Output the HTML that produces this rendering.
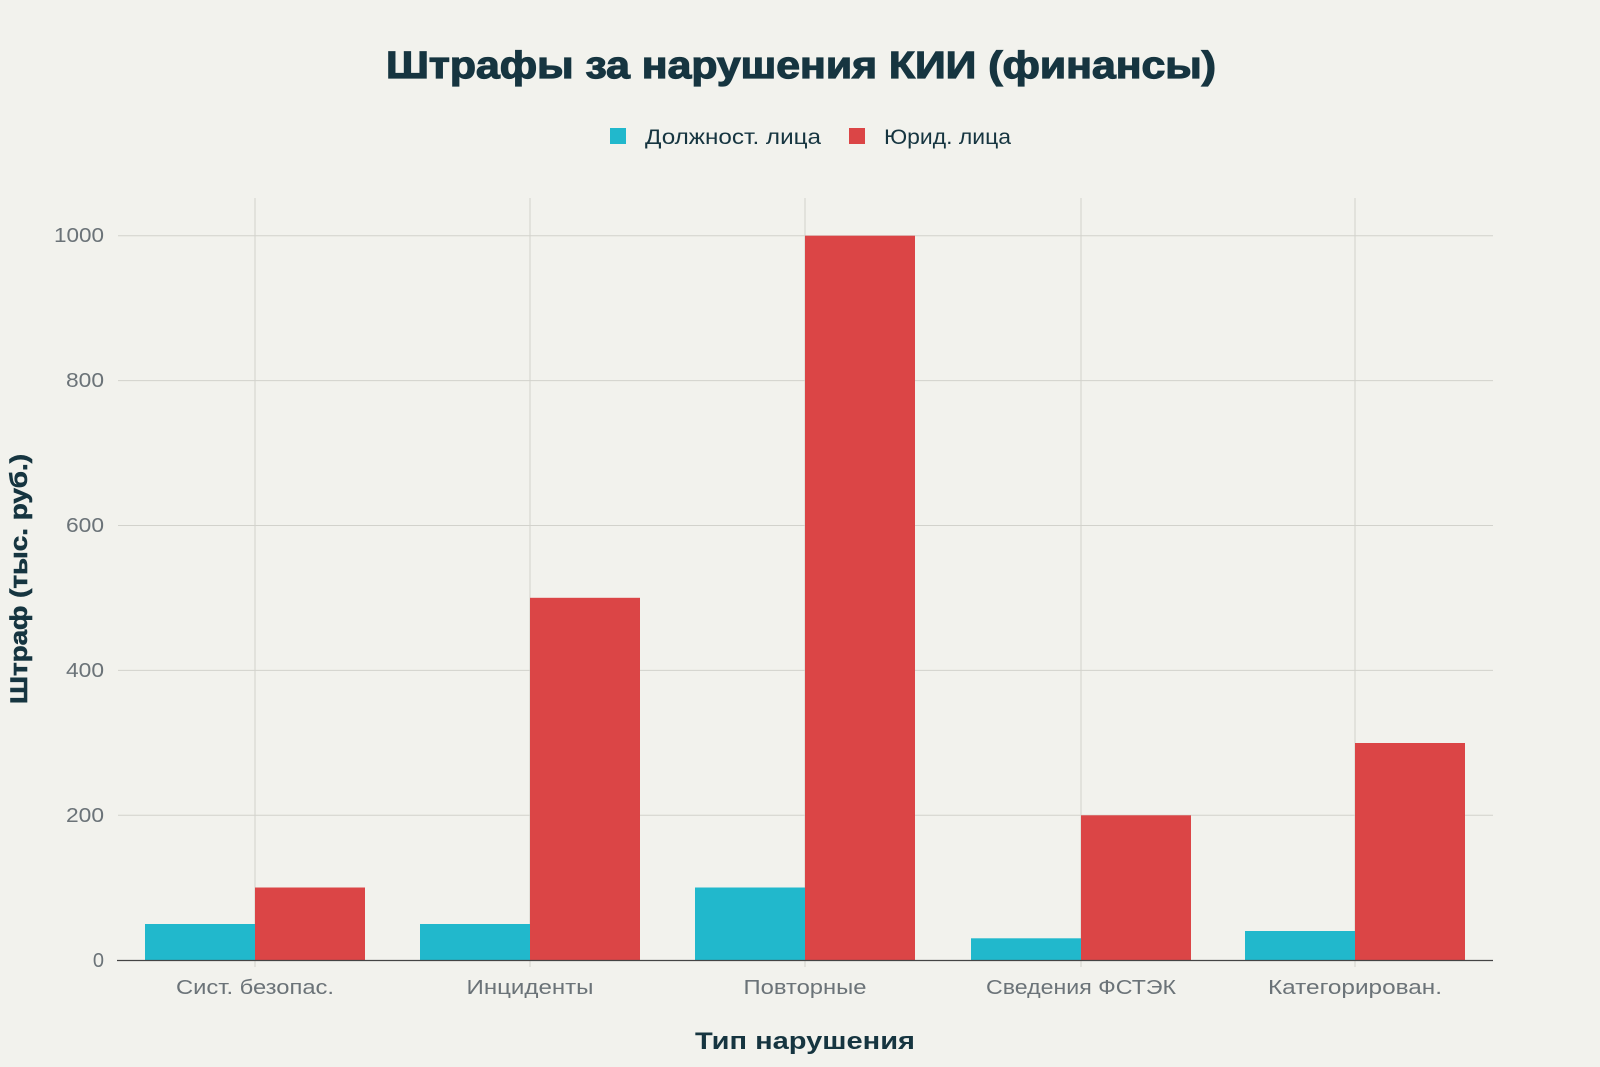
<!DOCTYPE html>
<html><head><meta charset="utf-8"><style>
html,body{margin:0;padding:0;background:#f2f2ed;}
svg{display:block;font-family:"Liberation Sans","DejaVu Sans",sans-serif;}
</style></head><body>
<svg width="1600" height="1067" viewBox="0 0 1600 1067" xmlns="http://www.w3.org/2000/svg">
<rect width="1600" height="1067" fill="#f2f2ed"/>
<text x="801" y="78" text-anchor="middle" font-size="38" font-weight="bold" fill="#163540" stroke="#163540" stroke-width="1.2" textLength="830" lengthAdjust="spacingAndGlyphs">Штрафы за нарушения КИИ (финансы)</text>
<rect x="610" y="128" width="16" height="16" fill="#21b8cc"/>
<text x="645" y="144" font-size="21" fill="#163540" textLength="176" lengthAdjust="spacingAndGlyphs">Должност. лица</text>
<rect x="849" y="128" width="16" height="16" fill="#db4546"/>
<text x="884" y="144" font-size="21" fill="#163540" textLength="127" lengthAdjust="spacingAndGlyphs">Юрид. лица</text>
<g stroke="#d2d2cc" stroke-width="1">
<line x1="118" x2="1493" y1="235.7" y2="235.7"/>
<line x1="118" x2="1493" y1="380.6" y2="380.6"/>
<line x1="118" x2="1493" y1="525.5" y2="525.5"/>
<line x1="118" x2="1493" y1="670.4" y2="670.4"/>
<line x1="118" x2="1493" y1="815.3" y2="815.3"/>
<line x1="255" x2="255" y1="198" y2="967"/>
<line x1="530" x2="530" y1="198" y2="967"/>
<line x1="805" x2="805" y1="198" y2="967"/>
<line x1="1081" x2="1081" y1="198" y2="967"/>
<line x1="1355" x2="1355" y1="198" y2="967"/>
</g>
<g font-size="20" fill="#6b7378" text-anchor="end">
<text x="104" y="242" textLength="50" lengthAdjust="spacingAndGlyphs">1000</text>
<text x="104" y="387" textLength="38" lengthAdjust="spacingAndGlyphs">800</text>
<text x="104" y="532" textLength="38" lengthAdjust="spacingAndGlyphs">600</text>
<text x="104" y="677" textLength="38" lengthAdjust="spacingAndGlyphs">400</text>
<text x="104" y="822" textLength="38" lengthAdjust="spacingAndGlyphs">200</text>
<text x="104" y="967">0</text>
</g>
<g>
<rect x="145" y="924" width="110" height="36" fill="#21b8cc"/>
<rect x="255" y="887.5" width="110" height="72.5" fill="#db4546"/>
<rect x="420" y="924" width="110" height="36" fill="#21b8cc"/>
<rect x="530" y="597.8" width="110" height="362.2" fill="#db4546"/>
<rect x="695" y="887.5" width="110" height="72.5" fill="#21b8cc"/>
<rect x="805" y="235.7" width="110" height="724.3" fill="#db4546"/>
<rect x="971" y="938.3" width="110" height="21.7" fill="#21b8cc"/>
<rect x="1081" y="815.3" width="110" height="144.7" fill="#db4546"/>
<rect x="1245" y="931" width="110" height="29" fill="#21b8cc"/>
<rect x="1355" y="743" width="110" height="217" fill="#db4546"/>
</g>
<line x1="117" x2="1493" y1="960.5" y2="960.5" stroke="#444" stroke-width="1.3"/>
<g font-size="20" fill="#6b7378" text-anchor="middle">
<text x="255" y="994" textLength="158" lengthAdjust="spacingAndGlyphs">Сист. безопас.</text>
<text x="530" y="994" textLength="127" lengthAdjust="spacingAndGlyphs">Инциденты</text>
<text x="805" y="994" textLength="123" lengthAdjust="spacingAndGlyphs">Повторные</text>
<text x="1081" y="994" textLength="190" lengthAdjust="spacingAndGlyphs">Сведения ФСТЭК</text>
<text x="1355" y="994" textLength="174" lengthAdjust="spacingAndGlyphs">Категорирован.</text>
</g>
<text x="805" y="1049" text-anchor="middle" font-size="24" font-weight="bold" fill="#163540" textLength="220" lengthAdjust="spacingAndGlyphs">Тип нарушения</text>
<text transform="translate(27,579) rotate(-90)" text-anchor="middle" font-size="24" font-weight="bold" fill="#163540" stroke="#163540" stroke-width="0.6" textLength="250" lengthAdjust="spacingAndGlyphs">Штраф (тыс. руб.)</text>
</svg>
</body></html>
